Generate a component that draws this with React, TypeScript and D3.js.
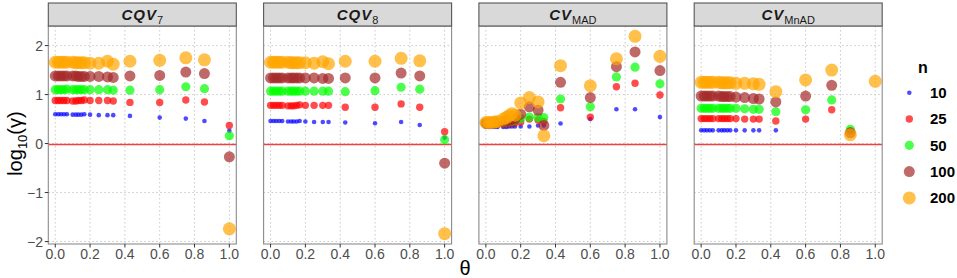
import React from "react";
import * as d3 from "d3";

const thetas = [0, 0.017, 0.033, 0.05, 0.067, 0.1, 0.118, 0.133, 0.15, 0.167, 0.2, 0.25, 0.3, 0.333, 0.429, 0.6, 0.75, 0.857, 1];
const nLevels = [10, 25, 50, 100, 200];
const nColors = ["#0000FF", "#FF0000", "#00FF00", "#A52A2A", "#FFA500"];
const nRadius = [2.3, 3.7, 4.6, 5.5, 6.5];
const xTicks = [0, 0.2, 0.4, 0.6, 0.8, 1.0];
const yTicks = [-2, -1, 0, 1, 2];

const CQV7_10 = [0.60, 0.60, 0.60, 0.60, 0.60, 0.59, 0.59, 0.59, 0.59, 0.60, 0.59, 0.58, 0.58, 0.58, 0.565, 0.53, 0.51, 0.46, 0.26];
const CQV7_25 = [0.88, 0.88, 0.88, 0.88, 0.88, 0.87, 0.87, 0.88, 0.88, 0.89, 0.88, 0.88, 0.88, 0.87, 0.84, 0.84, 0.89, 0.85, 0.37];
const CQV7_50 = [1.10, 1.10, 1.10, 1.10, 1.11, 1.10, 1.10, 1.10, 1.10, 1.10, 1.10, 1.10, 1.10, 1.09, 1.09, 1.10, 1.16, 1.12, 0.16];
const CQV7_100 = [1.38, 1.38, 1.38, 1.38, 1.38, 1.38, 1.38, 1.37, 1.37, 1.37, 1.37, 1.37, 1.36, 1.35, 1.38, 1.39, 1.46, 1.43, -0.27];
const CQV7_200 = [1.66, 1.66, 1.66, 1.66, 1.66, 1.66, 1.65, 1.65, 1.65, 1.65, 1.64, 1.64, 1.68, 1.62, 1.68, 1.70, 1.75, 1.71, -1.74];

const CQV8_10 = [0.46, 0.46, 0.46, 0.46, 0.46, 0.45, 0.45, 0.45, 0.45, 0.46, 0.45, 0.44, 0.44, 0.44, 0.43, 0.415, 0.44, 0.38, 0.12];
const CQV8_25 = [0.78, 0.78, 0.78, 0.78, 0.78, 0.77, 0.77, 0.77, 0.78, 0.79, 0.78, 0.78, 0.78, 0.78, 0.74, 0.74, 0.81, 0.74, 0.24];
const CQV8_50 = [1.07, 1.07, 1.07, 1.07, 1.07, 1.07, 1.07, 1.07, 1.07, 1.07, 1.07, 1.07, 1.07, 1.07, 1.06, 1.08, 1.15, 1.11, 0.08];
const CQV8_100 = [1.34, 1.34, 1.34, 1.34, 1.34, 1.34, 1.34, 1.34, 1.34, 1.34, 1.34, 1.34, 1.33, 1.33, 1.34, 1.34, 1.44, 1.38, -0.40];
const CQV8_200 = [1.66, 1.66, 1.66, 1.66, 1.66, 1.66, 1.65, 1.65, 1.65, 1.65, 1.65, 1.64, 1.67, 1.63, 1.68, 1.68, 1.74, 1.69, -1.84];

const MAD_10 = [0.34, 0.34, 0.34, 0.34, 0.34, 0.34, 0.34, 0.35, 0.35, 0.35, 0.35, 0.35, 0.37, 0.37, 0.41, 0.50, 0.70, 0.70, 0.54];
const MAD_25 = [0.39, 0.39, 0.39, 0.39, 0.40, 0.40, 0.41, 0.41, 0.42, 0.42, 0.44, 0.50, 0.48, 0.45, 0.73, 0.54, 1.16, 1.23, 0.99];
const MAD_50 = [0.41, 0.41, 0.41, 0.41, 0.42, 0.43, 0.44, 0.45, 0.46, 0.47, 0.51, 0.54, 0.53, 0.53, 0.91, 0.75, 1.36, 1.56, 1.22];
const MAD_100 = [0.42, 0.42, 0.42, 0.43, 0.43, 0.45, 0.46, 0.47, 0.49, 0.50, 0.60, 0.75, 0.68, 0.37, 1.25, 0.94, 1.57, 1.87, 1.49];
const MAD_200 = [0.43, 0.43, 0.43, 0.44, 0.45, 0.50, 0.53, 0.57, 0.61, 0.58, 0.83, 0.94, 0.85, 0.16, 1.59, 1.18, 1.73, 2.19, 1.78];

const MNAD_10 = [0.27, 0.27, 0.27, 0.27, 0.27, 0.27, 0.27, 0.27, 0.27, 0.27, 0.27, 0.27, 0.27, 0.27, 0.27, null, null, 0.27, null];
const MNAD_25 = [0.51, 0.51, 0.51, 0.51, 0.51, 0.51, 0.51, 0.51, 0.51, 0.51, 0.51, 0.50, 0.50, 0.50, 0.46, 0.50, 0.69, 0.26, null];
const MNAD_50 = [0.72, 0.72, 0.72, 0.72, 0.72, 0.72, 0.72, 0.72, 0.72, 0.72, 0.72, 0.71, 0.70, 0.70, 0.65, 0.69, 0.89, 0.29, null];
const MNAD_100 = [0.97, 0.97, 0.97, 0.97, 0.97, 0.97, 0.96, 0.96, 0.96, 0.96, 0.95, 0.94, 0.92, 0.91, 0.85, 0.97, 1.19, 0.22, null];
const MNAD_200 = [1.25, 1.25, 1.25, 1.25, 1.25, 1.25, 1.24, 1.24, 1.24, 1.24, 1.23, 1.23, 1.22, 1.21, 1.06, 1.30, 1.50, 0.18, 1.27];

const panels = [
  { main: "CQV", sub: "7", series: [CQV7_10, CQV7_25, CQV7_50, CQV7_100, CQV7_200] },
  { main: "CQV", sub: "8", series: [CQV8_10, CQV8_25, CQV8_50, CQV8_100, CQV8_200] },
  { main: "CV", sub: "MAD", series: [MAD_10, MAD_25, MAD_50, MAD_100, MAD_200] },
  { main: "CV", sub: "MnAD", series: [MNAD_10, MNAD_25, MNAD_50, MNAD_100, MNAD_200] },
];

const FONT = "'Liberation Sans', Arial, sans-serif";
const W = 957, H = 278;
const panelLeft0 = 48.3, panelStep = 215.3, panelW = 188;
const stripTop = 3, panelTop = 26, panelBottom = 244;

export default function App() {
  const y = d3.scaleLinear().domain([-2.05, 2.4]).range([panelBottom, panelTop]);
  const y0 = Math.round(y(0)) + 0.5;
  return (
    <svg width={W} height={H} style={{ position: "absolute", left: 0, top: 0, background: "#fff" }} fontFamily={FONT}>
      {panels.map((p, pi) => {
        const left = panelLeft0 + pi * panelStep;
        const x = d3.scaleLinear().domain([-0.04, 1.04]).range([left, left + panelW]);
        return (
          <g key={pi}>
            <rect x={left} y={panelTop} width={panelW} height={panelBottom - panelTop} fill="#fff" />
            {xTicks.map((t) => (
              <line key={"gx" + t} x1={x(t)} x2={x(t)} y1={panelTop} y2={panelBottom} stroke="#C8C8C8" strokeWidth={1} strokeDasharray="1.5,2.5" />
            ))}
            {yTicks.map((t) => (
              <line key={"gy" + t} x1={left} x2={left + panelW} y1={y(t)} y2={y(t)} stroke="#C8C8C8" strokeWidth={1} strokeDasharray="1.5,2.5" />
            ))}
            <line x1={left} x2={left + panelW} y1={y0} y2={y0} stroke="#F04040" strokeWidth={1.6} />
            {p.series.map((vals, si) => (
              <g key={si}>
                {vals.map((v, i) =>
                  v === null ? null : (
                    <circle key={i} cx={x(thetas[i])} cy={y(v)} r={nRadius[si]} fill={nColors[si]} fillOpacity={0.7} />
                  )
                )}
              </g>
            ))}
            <rect x={left} y={panelTop} width={panelW} height={panelBottom - panelTop} fill="none" stroke="#8A8A8A" strokeWidth={1.1} />
            <rect x={left} y={stripTop} width={panelW} height={panelTop - stripTop} fill="#D9D9D9" stroke="#555" strokeWidth={1.1} />
            <text x={left + panelW / 2} y={20} textAnchor="middle" fill="#1A1A1A">
              <tspan fontWeight="bold" fontStyle="italic" fontSize={15} letterSpacing={1}>{p.main}</tspan>
              <tspan fontSize={11} fontWeight="normal" dy={4}>{p.sub}</tspan>
            </text>
            {xTicks.map((t) => (
              <g key={"tx" + t}>
                <line x1={x(t)} x2={x(t)} y1={panelBottom} y2={panelBottom + 3.5} stroke="#333" strokeWidth={1} />
                <text x={x(t)} y={259} textAnchor="middle" fontSize={14} fill="#4D4D4D">{t.toFixed(1)}</text>
              </g>
            ))}
          </g>
        );
      })}
      {yTicks.map((t) => (
        <g key={"ty" + t}>
          <line x1={panelLeft0 - 3.5} x2={panelLeft0} y1={y(t)} y2={y(t)} stroke="#333" strokeWidth={1} />
          <text x={43} y={y(t)} dy="0.36em" textAnchor="end" fontSize={14} fill="#4D4D4D">{t < 0 ? "\u2212" + Math.abs(t) : String(t)}</text>
        </g>
      ))}
      <text transform={`translate(22, ${y(0)}) rotate(-90)`} textAnchor="middle" fontSize={20} fill="#000">
        log<tspan fontSize={13} dy={5}>10</tspan><tspan dy={-5}>(γ)</tspan>
      </text>
      <text x={465} y={275} textAnchor="middle" fontSize={20} fill="#000">θ</text>
      <text x={923} y={73} textAnchor="middle" fontSize={16} fontWeight="bold" fill="#000">n</text>
      {nLevels.map((n, i) => {
        const cy = 92.7 + i * 26.3;
        return (
          <g key={n}>
            <circle cx={909.3} cy={cy} r={nRadius[i]} fill={nColors[i]} fillOpacity={0.7} />
            <text x={930} y={cy} dy="0.36em" fontSize={15} fontWeight="bold" fill="#000">{n}</text>
          </g>
        );
      })}
    </svg>
  );
}
